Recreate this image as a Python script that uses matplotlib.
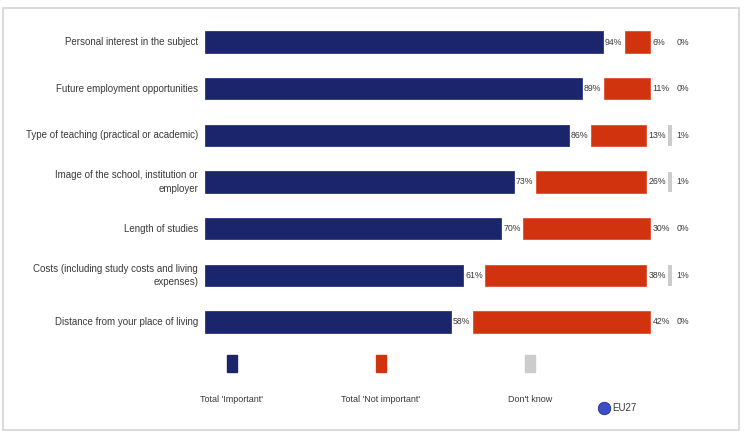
import matplotlib
matplotlib.use("Agg")
import matplotlib.pyplot as plt
from matplotlib.patches import Rectangle

plt.rcParams['font.family'] = ['Liberation Sans', 'DejaVu Sans']

# dane
categories = [
    "Personal interest in the subject",
    "Future employment opportunities",
    "Type of teaching (practical or academic)",
    "Image of the school, institution or\nemployer",
    "Length of studies",
    "Costs (including study costs and living\nexpenses)",
    "Distance from your place of living",
]
important = [94, 89, 86, 73, 70, 61, 58]
not_important = [6, 11, 13, 26, 30, 38, 42]
dont_know = [0, 0, 1, 1, 0, 1, 0]
legend_labels = ["Total 'Important'", "Total 'Not important'", "Don't know"]

NAVY = '#1a256b'
RED = '#d2330f'
GREY = '#cccccc'
TXT = '#3a3a3a'
GAP = 5.2  # odstep na etykiete (w jednostkach %)

W, H = 744, 434
fig = plt.figure(figsize=(W / 100, H / 100), dpi=100)
fig.patch.set_facecolor('white')

ax = fig.add_axes([205 / W, 1 - 345.3 / H, (734 - 205) / W, (345.3 - 18.7) / H])
ax.set_xlim(0, (734 - 205) / 4.234)
ax.set_ylim(len(categories) - 0.5, -0.5)
ax.axis('off')

ys = list(range(len(categories)))
bh = 0.46
for y, imp, ni, dk in zip(ys, important, not_important, dont_know):
    ax.barh(y, imp, left=0, height=bh, color=NAVY, edgecolor='#2a3580', linewidth=0.6)
    ax.barh(y, ni, left=imp + GAP, height=bh, color=RED, edgecolor='#e05030', linewidth=0.6)
    g0 = imp + ni + 2 * GAP
    if dk > 0:
        ax.barh(y, dk * 0.8, left=g0, height=bh * 0.95, color=GREY, linewidth=0)
    ax.text(imp + 0.45, y, f"{imp}%", ha='left', va='center', fontsize=6.3, color=TXT)
    ax.text(imp + GAP + ni + 0.55, y, f"{ni}%", ha='left', va='center', fontsize=6.3, color=TXT)
    ax.text(g0 + dk + 1.0, y, f"{dk}%", ha='left', va='center', fontsize=6.3, color=TXT)
    ax.text(-1.6, y, categories[y], ha='right', va='center', fontsize=7, color=TXT,
            linespacing=1.4)

# ramka (wspolrzedne w pikselach)
ov = fig.add_axes([0, 0, 1, 1], zorder=-1)
ov.set_xlim(0, W)
ov.set_ylim(H, 0)
ov.axis('off')
ov.add_patch(Rectangle((3, 8), 736, 422, fill=False, edgecolor='#d4d4d4', linewidth=1.2))

# legenda: kwadrat nad opisem
ov2 = fig.add_axes([0, 0, 1, 1])
ov2.set_xlim(0, W)
ov2.set_ylim(H, 0)
ov2.axis('off')
for cx, col, lab in zip([232, 381, 530], [NAVY, RED, GREY], legend_labels):
    ov2.add_patch(Rectangle((cx - 5, 355), 10, 17, color=col))
    ov2.text(cx, 400, lab, ha='center', va='center', fontsize=6.5, color=TXT)
ov2.plot([604], [408], 'o', markersize=9, color='#3b4fc4', markeredgecolor='#25308a', markeredgewidth=0.6)
ov2.text(612, 408, "EU27", ha='left', va='center', fontsize=7, color=TXT)

fig.savefig("out.png", dpi=100)
